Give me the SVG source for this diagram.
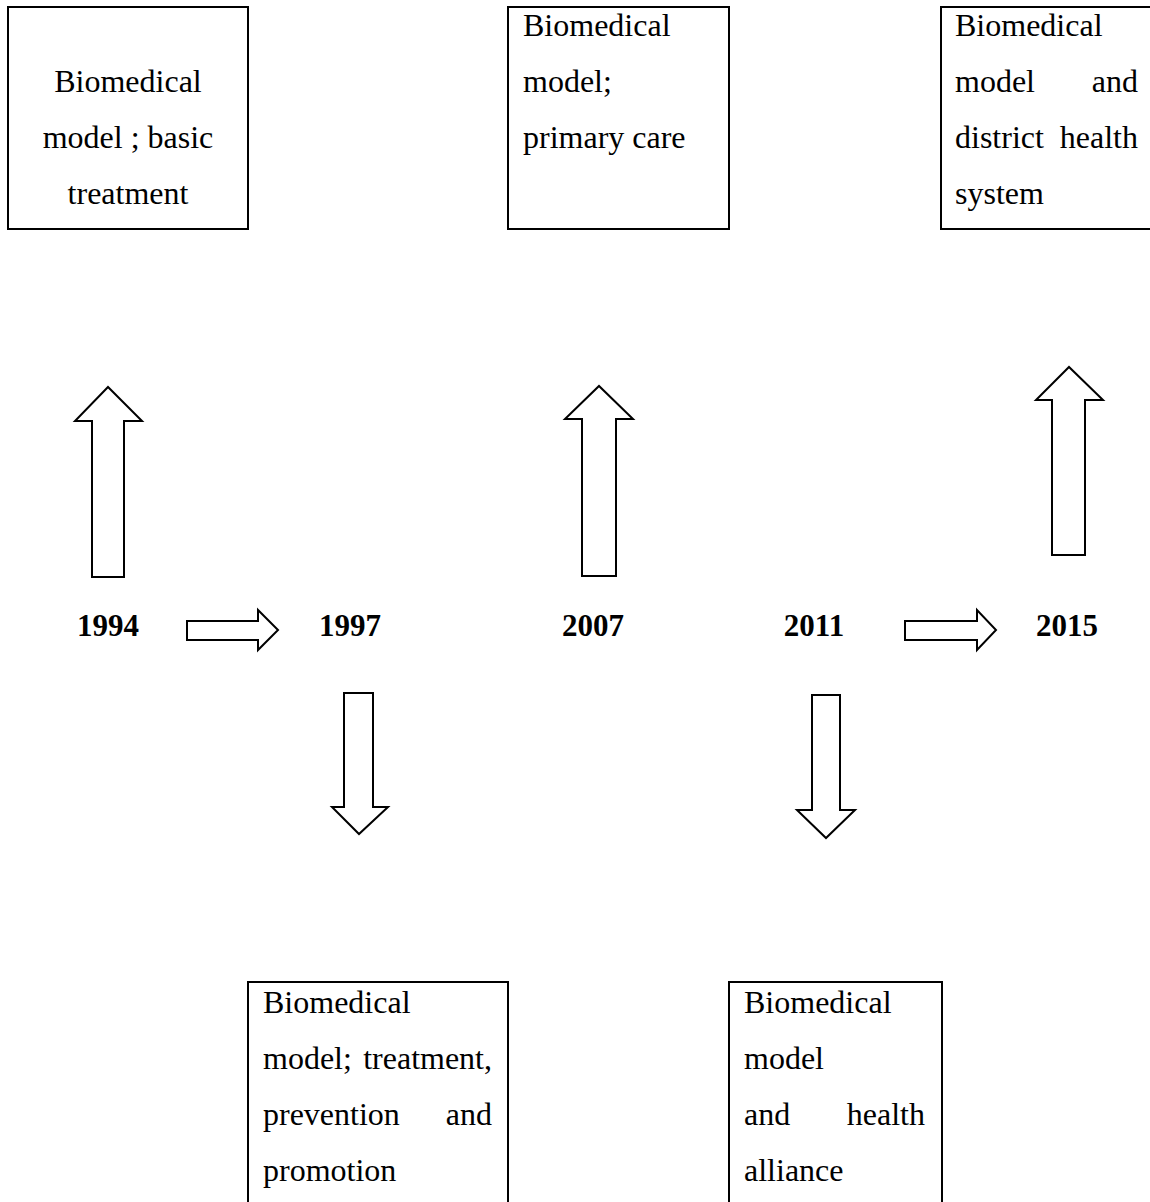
<svg xmlns="http://www.w3.org/2000/svg" width="1150" height="1202" viewBox="0 0 1150 1202">
<style>
.box{fill:#fff;stroke:#000;stroke-width:2}
.arr{fill:#fff;stroke:#000;stroke-width:2;stroke-linejoin:miter}
.t{font-family:"Liberation Serif","Times New Roman",serif;font-size:32px;fill:#000}
.y{font-family:"Liberation Serif","Times New Roman",serif;font-size:31px;font-weight:bold;fill:#000;text-anchor:middle}
.c{text-anchor:middle}
.e{text-anchor:end}
</style>
<rect width="1150" height="1202" fill="#fff"/>
<g id="connectors">
<path class="arr" d="M92,577 L92,421 L75,421 L108,387 L142,421 L124,421 L124,577 Z"/>
<path class="arr" d="M582,576 L582,419 L565,419 L599,386 L633,419 L616,419 L616,576 Z"/>
<path class="arr" d="M1052,555 L1052,400 L1036,400 L1069,367 L1103,400 L1085,400 L1085,555 Z"/>
<path class="arr" d="M344,693 L373,693 L373,807 L388,807 L359,834 L332,807 L344,807 Z"/>
<path class="arr" d="M812,695 L840,695 L840,810 L855,810 L826,838 L797,810 L812,810 Z"/>
<path class="arr" d="M187,621 L258,621 L258,610 L278,630 L258,650 L258,640 L187,640 Z"/>
<path class="arr" d="M905,621 L977,621 L977,610 L996,630 L977,650 L977,640 L905,640 Z"/>
</g>
<g id="year-1994"><text class="y" x="108" y="636">1994</text></g>
<g id="year-1997"><text class="y" x="350" y="636">1997</text></g>
<g id="year-2007"><text class="y" x="593" y="636">2007</text></g>
<g id="year-2011"><text class="y" x="814" y="636">2011</text></g>
<g id="year-2015"><text class="y" x="1067" y="636">2015</text></g>
<g id="box-1994">
<rect class="box" x="8" y="7" width="240" height="222"/>
<text class="t c" x="128" y="92">Biomedical</text>
<text class="t c" x="128" y="148">model ; basic</text>
<text class="t c" x="128" y="204">treatment</text>
</g>
<g id="box-2007">
<rect class="box" x="508" y="7" width="221" height="222"/>
<text class="t" x="523" y="36">Biomedical</text>
<text class="t" x="523" y="92">model;</text>
<text class="t" x="523" y="148">primary care</text>
</g>
<g id="box-2015">
<rect class="box" x="941" y="7" width="220" height="222"/>
<text class="t" x="955" y="36">Biomedical</text>
<text class="t" x="955" y="92">model</text>
<text class="t e" x="1138" y="92">and</text>
<text class="t" x="955" y="148">district</text>
<text class="t e" x="1138" y="148">health</text>
<text class="t" x="955" y="204">system</text>
</g>
<g id="box-1997">
<rect class="box" x="248" y="982" width="260" height="240"/>
<text class="t" x="263" y="1013">Biomedical</text>
<text class="t" x="263" y="1069">model;</text>
<text class="t e" x="492" y="1069">treatment,</text>
<text class="t" x="263" y="1125">prevention</text>
<text class="t e" x="492" y="1125">and</text>
<text class="t" x="263" y="1181">promotion</text>
</g>
<g id="box-2011">
<rect class="box" x="729" y="982" width="213" height="240"/>
<text class="t" x="744" y="1013">Biomedical</text>
<text class="t" x="744" y="1069">model</text>
<text class="t" x="744" y="1125">and</text>
<text class="t e" x="925" y="1125">health</text>
<text class="t" x="744" y="1181">alliance</text>
</g>
</svg>
